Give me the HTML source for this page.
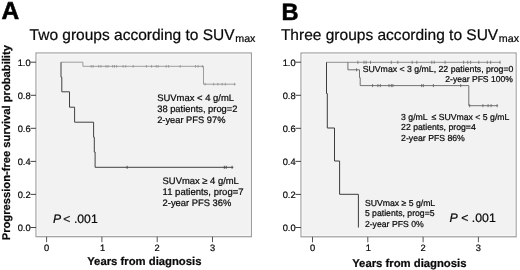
<!DOCTYPE html>
<html><head><meta charset="utf-8"><title>PFS</title>
<style>
html,body{margin:0;padding:0;background:#fff;}
body{width:520px;height:270px;overflow:hidden;font-family:"Liberation Sans",sans-serif;}
svg{display:block;will-change:transform;filter:blur(0.3px);}
text{font-family:"Liberation Sans",sans-serif;fill:#0a0a0a;stroke:#0a0a0a;stroke-width:0.22px;text-rendering:geometricPrecision;}
.b{font-weight:bold;}
.i{font-style:italic;}
</style></head><body>
<svg width="520" height="270" viewBox="0 0 520 270">
<rect width="520" height="270" fill="#fff"/>

<text class="b" x="1.5" y="19" font-size="24.5" style="fill:#000;stroke:#000;stroke-width:0.55px">A</text>
<text class="b" x="281.4" y="20" font-size="23.6" style="fill:#000;stroke:#000;stroke-width:0.5px">B</text>
<text x="29.6" y="40" font-size="15.5">Two groups according to SUV<tspan font-size="10.7" dy="1.8" dx="0.6">max</tspan></text>
<text x="280.9" y="40" font-size="15.53">Three groups according to SUV<tspan font-size="10.7" dy="1.8" dx="0.6">max</tspan></text>
<text class="b" font-size="11.2" transform="translate(10.3,240.3) rotate(-90)" fill="#000">Progression-free survival probability</text>
<rect x="36" y="53" width="215.4" height="183.7" fill="#f2f2f2" stroke="#9e9e9e" stroke-width="1.2"/>
<rect x="37.3" y="54.3" width="212.8" height="181.1" fill="none" stroke="#f8f8f8" stroke-width="1"/>
<path d="M30.5 227.5H36" stroke="#444" stroke-width="1" fill="none"/>
<text x="30.6" y="230.9" font-size="9.3" text-anchor="end">0.0</text>
<path d="M30.5 194.4H36" stroke="#444" stroke-width="1" fill="none"/>
<text x="30.6" y="197.8" font-size="9.3" text-anchor="end">0.2</text>
<path d="M30.5 161.4H36" stroke="#444" stroke-width="1" fill="none"/>
<text x="30.6" y="164.8" font-size="9.3" text-anchor="end">0.4</text>
<path d="M30.5 128.3H36" stroke="#444" stroke-width="1" fill="none"/>
<text x="30.6" y="131.7" font-size="9.3" text-anchor="end">0.6</text>
<path d="M30.5 95.3H36" stroke="#444" stroke-width="1" fill="none"/>
<text x="30.6" y="98.7" font-size="9.3" text-anchor="end">0.8</text>
<path d="M30.5 62.2H36" stroke="#444" stroke-width="1" fill="none"/>
<text x="30.6" y="65.6" font-size="9.3" text-anchor="end">1.0</text>
<path d="M46.6 236.7V242.2" stroke="#555" stroke-width="1" fill="none"/>
<text x="46.6" y="251.0" font-size="9.3" text-anchor="middle">0</text>
<path d="M101.9 236.7V242.2" stroke="#555" stroke-width="1" fill="none"/>
<text x="102.5" y="251.0" font-size="9.3" text-anchor="middle">1</text>
<path d="M157.2 236.7V242.2" stroke="#555" stroke-width="1" fill="none"/>
<text x="157.2" y="251.0" font-size="9.3" text-anchor="middle">2</text>
<path d="M212.5 236.7V242.2" stroke="#555" stroke-width="1" fill="none"/>
<text x="212.5" y="251.0" font-size="9.3" text-anchor="middle">3</text>
<text class="b" x="87.2" y="265.3" font-size="11.3" fill="#000">Years from diagnosis</text>
<path d="M61 62.2H82.9V66.3H203.5V84.2H235.6" stroke="#8c8c8c" stroke-width="0.85" fill="none"/>
<path d="M91.2 65.0V67.6M93.1 65.0V67.6M98.7 65.0V67.6M100.9 65.0V67.6M106.0 65.0V67.6M108.0 65.0V67.6M112.7 65.0V67.6M114.5 65.0V67.6M116.6 65.0V67.6M123.1 65.0V67.6M125.7 65.0V67.6M133.2 65.0V67.6M146.4 65.0V67.6M151.6 65.0V67.6M156.2 65.0V67.6M158.1 65.0V67.6M166.2 65.0V67.6M168.6 65.0V67.6M180.2 65.0V67.6M195.5 65.0V67.6M198.1 65.0V67.6M202.3 65.0V67.6" stroke="#8c8c8c" stroke-width="0.8" fill="none"/>
<path d="M205.1 82.9V85.5M213.7 82.9V85.5M217.9 82.9V85.5M222.2 82.9V85.5M225.3 82.9V85.5M234.6 82.9V85.5" stroke="#8c8c8c" stroke-width="0.8" fill="none"/>
<path d="M61 62.2V77.2H61.8V91.8H69.5V107.2H74.6V122.2H93.6V137.2H94.3V152H95.1V167.3H233.3" stroke="#404040" stroke-width="1" fill="none"/>
<path d="M127.1 165.8V168.8M224.3 165.8V168.8M226.2 165.8V168.8M232.1 165.8V168.8" stroke="#404040" stroke-width="0.9" fill="none"/>
<text x="157.2" y="101" font-size="9.45">SUVmax &lt; 4 g/mL</text>
<text x="157.2" y="112" font-size="9.35">38 patients, prog=2</text>
<text x="157.2" y="123" font-size="9.3">2-year PFS 97%</text>
<text x="162.6" y="184" font-size="9.42">SUVmax ≥ 4 g/mL</text>
<text x="162.6" y="195" font-size="9.5">11 patients, prog=7</text>
<text x="162.6" y="206" font-size="9.4">2-year PFS 36%</text>
<text x="53" y="222.8" font-size="12.2"><tspan class="i">P</tspan><tspan dx="-1.2"> &lt;</tspan><tspan dx="0.1"> .001</tspan></text>
<rect x="301" y="53" width="215.1" height="183.8" fill="#f2f2f2" stroke="#9e9e9e" stroke-width="1.2"/>
<rect x="302.3" y="54.3" width="212.5" height="181.2" fill="none" stroke="#f8f8f8" stroke-width="1"/>
<path d="M295.5 227.5H301" stroke="#444" stroke-width="1" fill="none"/>
<text x="295.6" y="230.9" font-size="9.3" text-anchor="end">0.0</text>
<path d="M295.5 194.4H301" stroke="#444" stroke-width="1" fill="none"/>
<text x="295.6" y="197.8" font-size="9.3" text-anchor="end">0.2</text>
<path d="M295.5 161.4H301" stroke="#444" stroke-width="1" fill="none"/>
<text x="295.6" y="164.8" font-size="9.3" text-anchor="end">0.4</text>
<path d="M295.5 128.3H301" stroke="#444" stroke-width="1" fill="none"/>
<text x="295.6" y="131.7" font-size="9.3" text-anchor="end">0.6</text>
<path d="M295.5 95.3H301" stroke="#444" stroke-width="1" fill="none"/>
<text x="295.6" y="98.7" font-size="9.3" text-anchor="end">0.8</text>
<path d="M295.5 62.2H301" stroke="#444" stroke-width="1" fill="none"/>
<text x="295.6" y="65.6" font-size="9.3" text-anchor="end">1.0</text>
<path d="M312.5 236.8V242.3" stroke="#555" stroke-width="1" fill="none"/>
<text x="312.5" y="251.1" font-size="9.3" text-anchor="middle">0</text>
<path d="M367.8 236.8V242.3" stroke="#555" stroke-width="1" fill="none"/>
<text x="368.4" y="251.1" font-size="9.3" text-anchor="middle">1</text>
<path d="M423.1 236.8V242.3" stroke="#555" stroke-width="1" fill="none"/>
<text x="423.1" y="251.1" font-size="9.3" text-anchor="middle">2</text>
<path d="M478.4 236.8V242.3" stroke="#555" stroke-width="1" fill="none"/>
<text x="478.4" y="251.1" font-size="9.3" text-anchor="middle">3</text>
<text class="b" x="352.2" y="267" font-size="11.3" fill="#000">Years from diagnosis</text>
<path d="M326.4 62.3H500.6" stroke="#6e6e6e" stroke-width="0.75" fill="none"/>
<path d="M357.9 60.7V63.9M364.0 60.7V63.9M366.1 60.7V63.9M370.5 60.7V63.9M391.3 60.7V63.9M397.8 60.7V63.9M412.2 60.7V63.9M416.8 60.7V63.9M431.8 60.7V63.9M434.2 60.7V63.9M445.1 60.7V63.9M463.6 60.7V63.9M467.7 60.7V63.9M470.6 60.7V63.9M478.8 60.7V63.9M487.3 60.7V63.9M490.6 60.7V63.9M500.0 60.7V63.9" stroke="#6e6e6e" stroke-width="0.8" fill="none"/>
<path d="M347.9 62.3V69.8H359.5V77.7H360.2V85.6H468.8V105.7H498.1" stroke="#636363" stroke-width="0.9" fill="none"/>
<path d="M356.6 68.3V71.3" stroke="#636363" stroke-width="0.9" fill="none"/>
<path d="M372.6 84.1V87.1M377.9 84.1V87.1M380.3 84.1V87.1M389.0 84.1V87.1M391.3 84.1V87.1M392.9 84.1V87.1M421.7 84.1V87.1M423.3 84.1V87.1M433.4 84.1V87.1M460.7 84.1V87.1" stroke="#636363" stroke-width="0.9" fill="none"/>
<path d="M469.7 104.2V107.2M482.9 104.2V107.2M488.1 104.2V107.2M491.1 104.2V107.2M497.1 104.2V107.2" stroke="#636363" stroke-width="0.9" fill="none"/>
<path d="M326.5 62.3V93.5H327.3V128H334.5V161H339.6V194.3H358.4V227.5" stroke="#3c3c3c" stroke-width="1" fill="none"/>
<text x="362.7" y="71.5" font-size="8.72">SUVmax &lt; 3 g/mL, 22 patients, prog=0</text>
<text x="512.8" y="81.5" font-size="8.55" text-anchor="end">2-year PFS 100%</text>
<text x="401.1" y="120.0" font-size="8.7">3 g/mL<tspan dx="1.7"> ≤ SUVmax &lt; 5 g/mL</tspan></text>
<text x="401.1" y="130.2" font-size="8.7">22 patients, prog=4</text>
<text x="401.1" y="140.9" font-size="8.7">2-year PFS 86%</text>
<text x="364.9" y="206.0" font-size="8.68">SUVmax ≥ 5 g/mL</text>
<text x="364.9" y="216.4" font-size="8.68">5 patients, prog=5</text>
<text x="364.9" y="226.9" font-size="8.68">2-year PFS 0%</text>
<text x="449.6" y="221.8" font-size="12.3"><tspan class="i">P</tspan> &lt; .001</text>
</svg></body></html>
